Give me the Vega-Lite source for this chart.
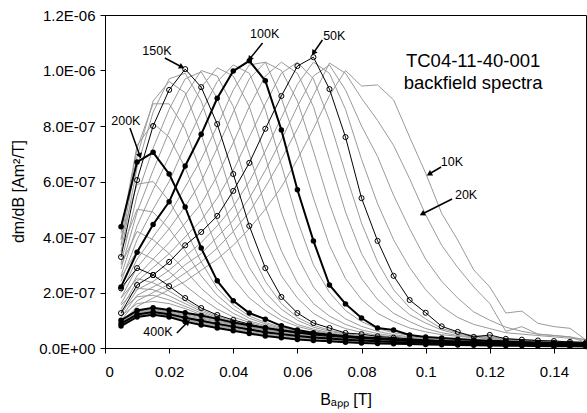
{"$schema":"https://vega.github.io/schema/vega-lite/v6.json","width":481,"height":333,"autosize":{"type":"none"},"padding":{"left":105,"top":15,"right":1,"bottom":65},"background":"white","config":{"view":{"stroke":"black","strokeWidth":1},"font":"Liberation Sans","axis":{"domainColor":"black","tickColor":"black","labelColor":"black","titleColor":"black","labelFont":"Liberation Sans","titleFont":"Liberation Sans","labelFontSize":15,"titleFontSize":16,"titleFontWeight":"normal","grid":false,"tickSize":5}},
"datasets":{"curves":[
{"T":10,"B":0.005,"v":0.9e-7},{"T":10,"B":0.01,"v":1.5e-7},{"T":10,"B":0.015,"v":1.8e-7},{"T":10,"B":0.02,"v":2.1e-7},{"T":10,"B":0.025,"v":2.4e-7},{"T":10,"B":0.03,"v":2.8e-7},{"T":10,"B":0.035,"v":3.2e-7},{"T":10,"B":0.04,"v":3.7e-7},{"T":10,"B":0.045,"v":4.3e-7},{"T":10,"B":0.05,"v":5.0e-7},{"T":10,"B":0.055,"v":5.8e-7},{"T":10,"B":0.06,"v":6.8e-7},{"T":10,"B":0.065,"v":7.9e-7},{"T":10,"B":0.07,"v":9.1e-7},{"T":10,"B":0.075,"v":10.0e-7},{"T":10,"B":0.08,"v":9.44e-7},{"T":10,"B":0.085,"v":9.48e-7},{"T":10,"B":0.09,"v":8.94e-7},{"T":10,"B":0.095,"v":7.6e-7},{"T":10,"B":0.1,"v":6.3e-7},{"T":10,"B":0.105,"v":4.85e-7},{"T":10,"B":0.11,"v":3.89e-7},{"T":10,"B":0.115,"v":2.81e-7},{"T":10,"B":0.12,"v":2.2e-7},{"T":10,"B":0.125,"v":1.26e-7},{"T":10,"B":0.13,"v":1.33e-7},{"T":10,"B":0.135,"v":0.89e-7},{"T":10,"B":0.14,"v":0.77e-7},{"T":10,"B":0.145,"v":0.71e-7},{"T":10,"B":0.15,"v":0.29e-7},
{"T":20,"B":0.005,"v":1.0e-7},{"T":20,"B":0.01,"v":1.7e-7},{"T":20,"B":0.015,"v":2.0e-7},{"T":20,"B":0.02,"v":2.3e-7},{"T":20,"B":0.025,"v":2.7e-7},{"T":20,"B":0.03,"v":3.1e-7},{"T":20,"B":0.035,"v":3.6e-7},{"T":20,"B":0.04,"v":4.2e-7},{"T":20,"B":0.045,"v":4.9e-7},{"T":20,"B":0.05,"v":5.8e-7},{"T":20,"B":0.055,"v":6.8e-7},{"T":20,"B":0.06,"v":7.9e-7},{"T":20,"B":0.065,"v":9.1e-7},{"T":20,"B":0.07,"v":10.27e-7},{"T":20,"B":0.075,"v":9.9e-7},{"T":20,"B":0.08,"v":9.0e-7},{"T":20,"B":0.085,"v":8.2e-7},{"T":20,"B":0.09,"v":7.3e-7},{"T":20,"B":0.095,"v":6.1e-7},{"T":20,"B":0.1,"v":4.8e-7},{"T":20,"B":0.105,"v":3.7e-7},{"T":20,"B":0.11,"v":2.9e-7},{"T":20,"B":0.115,"v":2.2e-7},{"T":20,"B":0.12,"v":1.6e-7},{"T":20,"B":0.125,"v":0.6e-7},{"T":20,"B":0.13,"v":0.77e-7},{"T":20,"B":0.135,"v":0.5e-7},{"T":20,"B":0.14,"v":0.45e-7},{"T":20,"B":0.145,"v":0.4e-7},{"T":20,"B":0.15,"v":0.2e-7},
{"T":30,"B":0.005,"v":1.1e-7},{"T":30,"B":0.01,"v":1.9e-7},{"T":30,"B":0.015,"v":2.2e-7},{"T":30,"B":0.02,"v":2.5e-7},{"T":30,"B":0.025,"v":3.0e-7},{"T":30,"B":0.03,"v":3.4e-7},{"T":30,"B":0.035,"v":4.0e-7},{"T":30,"B":0.04,"v":4.6e-7},{"T":30,"B":0.045,"v":5.4e-7},{"T":30,"B":0.05,"v":6.4e-7},{"T":30,"B":0.055,"v":7.5e-7},{"T":30,"B":0.06,"v":8.7e-7},{"T":30,"B":0.065,"v":9.8e-7},{"T":30,"B":0.07,"v":10.2e-7},{"T":30,"B":0.075,"v":9.3e-7},{"T":30,"B":0.08,"v":8.0e-7},{"T":30,"B":0.085,"v":6.9e-7},{"T":30,"B":0.09,"v":5.5e-7},{"T":30,"B":0.095,"v":4.3e-7},{"T":30,"B":0.1,"v":3.2e-7},{"T":30,"B":0.105,"v":2.4e-7},{"T":30,"B":0.11,"v":1.8e-7},{"T":30,"B":0.115,"v":1.3e-7},{"T":30,"B":0.12,"v":1.0e-7},{"T":30,"B":0.125,"v":0.75e-7},{"T":30,"B":0.13,"v":0.6e-7},{"T":30,"B":0.135,"v":0.5e-7},{"T":30,"B":0.14,"v":0.45e-7},{"T":30,"B":0.145,"v":0.4e-7},{"T":30,"B":0.15,"v":0.3e-7},
{"T":40,"B":0.005,"v":1.2e-7},{"T":40,"B":0.01,"v":2.1e-7},{"T":40,"B":0.015,"v":2.4e-7},{"T":40,"B":0.02,"v":2.8e-7},{"T":40,"B":0.025,"v":3.3e-7},{"T":40,"B":0.03,"v":3.8e-7},{"T":40,"B":0.035,"v":4.4e-7},{"T":40,"B":0.04,"v":5.1e-7},{"T":40,"B":0.045,"v":6.0e-7},{"T":40,"B":0.05,"v":7.1e-7},{"T":40,"B":0.055,"v":8.3e-7},{"T":40,"B":0.06,"v":9.5e-7},{"T":40,"B":0.065,"v":10.3e-7},{"T":40,"B":0.07,"v":9.9e-7},{"T":40,"B":0.075,"v":8.6e-7},{"T":40,"B":0.08,"v":6.8e-7},{"T":40,"B":0.085,"v":5.2e-7},{"T":40,"B":0.09,"v":3.9e-7},{"T":40,"B":0.095,"v":2.9e-7},{"T":40,"B":0.1,"v":2.1e-7},{"T":40,"B":0.105,"v":1.5e-7},{"T":40,"B":0.11,"v":1.1e-7},{"T":40,"B":0.115,"v":0.85e-7},{"T":40,"B":0.12,"v":0.7e-7},{"T":40,"B":0.125,"v":0.55e-7},{"T":40,"B":0.13,"v":0.5e-7},{"T":40,"B":0.135,"v":0.45e-7},{"T":40,"B":0.14,"v":0.4e-7},{"T":40,"B":0.145,"v":0.35e-7},{"T":40,"B":0.15,"v":0.3e-7},
{"T":50,"B":0.005,"v":1.26e-7},{"T":50,"B":0.01,"v":2.27e-7},{"T":50,"B":0.015,"v":2.63e-7},{"T":50,"B":0.02,"v":3.10e-7},{"T":50,"B":0.025,"v":3.70e-7},{"T":50,"B":0.03,"v":4.18e-7},{"T":50,"B":0.035,"v":4.76e-7},{"T":50,"B":0.04,"v":5.66e-7},{"T":50,"B":0.045,"v":6.67e-7},{"T":50,"B":0.05,"v":7.90e-7},{"T":50,"B":0.055,"v":9.08e-7},{"T":50,"B":0.06,"v":10.16e-7},{"T":50,"B":0.065,"v":10.48e-7},{"T":50,"B":0.07,"v":9.33e-7},{"T":50,"B":0.075,"v":7.60e-7},{"T":50,"B":0.08,"v":5.40e-7},{"T":50,"B":0.085,"v":3.86e-7},{"T":50,"B":0.09,"v":2.60e-7},{"T":50,"B":0.095,"v":1.73e-7},{"T":50,"B":0.1,"v":1.27e-7},{"T":50,"B":0.105,"v":0.78e-7},{"T":50,"B":0.11,"v":0.58e-7},{"T":50,"B":0.115,"v":0.40e-7},{"T":50,"B":0.12,"v":0.47e-7},{"T":50,"B":0.125,"v":0.33e-7},{"T":50,"B":0.13,"v":0.3e-7},{"T":50,"B":0.135,"v":0.27e-7},{"T":50,"B":0.14,"v":0.25e-7},{"T":50,"B":0.145,"v":0.22e-7},{"T":50,"B":0.15,"v":0.2e-7},
{"T":60,"B":0.005,"v":1.4e-7},{"T":60,"B":0.01,"v":2.4e-7},{"T":60,"B":0.015,"v":2.9e-7},{"T":60,"B":0.02,"v":3.4e-7},{"T":60,"B":0.025,"v":4.0e-7},{"T":60,"B":0.03,"v":4.6e-7},{"T":60,"B":0.035,"v":5.4e-7},{"T":60,"B":0.04,"v":6.4e-7},{"T":60,"B":0.045,"v":7.6e-7},{"T":60,"B":0.05,"v":8.8e-7},{"T":60,"B":0.055,"v":9.9e-7},{"T":60,"B":0.06,"v":10.3e-7},{"T":60,"B":0.065,"v":9.7e-7},{"T":60,"B":0.07,"v":8.2e-7},{"T":60,"B":0.075,"v":6.3e-7},{"T":60,"B":0.08,"v":4.5e-7},{"T":60,"B":0.085,"v":3.1e-7},{"T":60,"B":0.09,"v":2.1e-7},{"T":60,"B":0.095,"v":1.45e-7},{"T":60,"B":0.1,"v":1.05e-7},{"T":60,"B":0.105,"v":0.7e-7},{"T":60,"B":0.11,"v":0.55e-7},{"T":60,"B":0.115,"v":0.45e-7},{"T":60,"B":0.12,"v":0.4e-7},{"T":60,"B":0.125,"v":0.35e-7},{"T":60,"B":0.13,"v":0.3e-7},{"T":60,"B":0.135,"v":0.27e-7},{"T":60,"B":0.14,"v":0.25e-7},{"T":60,"B":0.145,"v":0.22e-7},{"T":60,"B":0.15,"v":0.2e-7},
{"T":70,"B":0.005,"v":1.6e-7},{"T":70,"B":0.01,"v":2.6e-7},{"T":70,"B":0.015,"v":3.2e-7},{"T":70,"B":0.02,"v":3.8e-7},{"T":70,"B":0.025,"v":4.5e-7},{"T":70,"B":0.03,"v":5.2e-7},{"T":70,"B":0.035,"v":6.2e-7},{"T":70,"B":0.04,"v":7.4e-7},{"T":70,"B":0.045,"v":8.7e-7},{"T":70,"B":0.05,"v":9.8e-7},{"T":70,"B":0.055,"v":10.3e-7},{"T":70,"B":0.06,"v":9.9e-7},{"T":70,"B":0.065,"v":8.7e-7},{"T":70,"B":0.07,"v":6.8e-7},{"T":70,"B":0.075,"v":4.9e-7},{"T":70,"B":0.08,"v":3.4e-7},{"T":70,"B":0.085,"v":2.4e-7},{"T":70,"B":0.09,"v":1.7e-7},{"T":70,"B":0.095,"v":1.2e-7},{"T":70,"B":0.1,"v":0.9e-7},{"T":70,"B":0.105,"v":0.65e-7},{"T":70,"B":0.11,"v":0.5e-7},{"T":70,"B":0.115,"v":0.42e-7},{"T":70,"B":0.12,"v":0.38e-7},{"T":70,"B":0.125,"v":0.33e-7},{"T":70,"B":0.13,"v":0.3e-7},{"T":70,"B":0.135,"v":0.27e-7},{"T":70,"B":0.14,"v":0.24e-7},{"T":70,"B":0.145,"v":0.22e-7},{"T":70,"B":0.15,"v":0.2e-7},
{"T":80,"B":0.005,"v":1.8e-7},{"T":80,"B":0.01,"v":2.9e-7},{"T":80,"B":0.015,"v":3.6e-7},{"T":80,"B":0.02,"v":4.3e-7},{"T":80,"B":0.025,"v":5.1e-7},{"T":80,"B":0.03,"v":6.0e-7},{"T":80,"B":0.035,"v":7.2e-7},{"T":80,"B":0.04,"v":8.5e-7},{"T":80,"B":0.045,"v":9.7e-7},{"T":80,"B":0.05,"v":10.3e-7},{"T":80,"B":0.055,"v":10.0e-7},{"T":80,"B":0.06,"v":8.9e-7},{"T":80,"B":0.065,"v":7.1e-7},{"T":80,"B":0.07,"v":5.2e-7},{"T":80,"B":0.075,"v":3.6e-7},{"T":80,"B":0.08,"v":2.5e-7},{"T":80,"B":0.085,"v":1.75e-7},{"T":80,"B":0.09,"v":1.25e-7},{"T":80,"B":0.095,"v":0.95e-7},{"T":80,"B":0.1,"v":0.7e-7},{"T":80,"B":0.105,"v":0.55e-7},{"T":80,"B":0.11,"v":0.45e-7},{"T":80,"B":0.115,"v":0.4e-7},{"T":80,"B":0.12,"v":0.35e-7},{"T":80,"B":0.125,"v":0.3e-7},{"T":80,"B":0.13,"v":0.28e-7},{"T":80,"B":0.135,"v":0.25e-7},{"T":80,"B":0.14,"v":0.23e-7},{"T":80,"B":0.145,"v":0.2e-7},{"T":80,"B":0.15,"v":0.18e-7},
{"T":90,"B":0.005,"v":2.0e-7},{"T":90,"B":0.01,"v":3.2e-7},{"T":90,"B":0.015,"v":4.0e-7},{"T":90,"B":0.02,"v":4.8e-7},{"T":90,"B":0.025,"v":5.8e-7},{"T":90,"B":0.03,"v":6.8e-7},{"T":90,"B":0.035,"v":8.0e-7},{"T":90,"B":0.04,"v":9.3e-7},{"T":90,"B":0.045,"v":10.2e-7},{"T":90,"B":0.05,"v":10.3e-7},{"T":90,"B":0.055,"v":9.0e-7},{"T":90,"B":0.06,"v":7.3e-7},{"T":90,"B":0.065,"v":5.4e-7},{"T":90,"B":0.07,"v":3.7e-7},{"T":90,"B":0.075,"v":2.5e-7},{"T":90,"B":0.08,"v":1.75e-7},{"T":90,"B":0.085,"v":1.25e-7},{"T":90,"B":0.09,"v":0.95e-7},{"T":90,"B":0.095,"v":0.72e-7},{"T":90,"B":0.1,"v":0.58e-7},{"T":90,"B":0.105,"v":0.48e-7},{"T":90,"B":0.11,"v":0.42e-7},{"T":90,"B":0.115,"v":0.37e-7},{"T":90,"B":0.12,"v":0.33e-7},{"T":90,"B":0.125,"v":0.3e-7},{"T":90,"B":0.13,"v":0.27e-7},{"T":90,"B":0.135,"v":0.24e-7},{"T":90,"B":0.14,"v":0.22e-7},{"T":90,"B":0.145,"v":0.2e-7},{"T":90,"B":0.15,"v":0.17e-7},
{"T":100,"B":0.005,"v":2.20e-7},{"T":100,"B":0.01,"v":3.45e-7},{"T":100,"B":0.015,"v":4.45e-7},{"T":100,"B":0.02,"v":5.27e-7},{"T":100,"B":0.025,"v":6.56e-7},{"T":100,"B":0.03,"v":7.70e-7},{"T":100,"B":0.035,"v":9.00e-7},{"T":100,"B":0.04,"v":9.98e-7},{"T":100,"B":0.045,"v":10.35e-7},{"T":100,"B":0.05,"v":9.63e-7},{"T":100,"B":0.055,"v":7.86e-7},{"T":100,"B":0.06,"v":5.70e-7},{"T":100,"B":0.065,"v":3.86e-7},{"T":100,"B":0.07,"v":2.27e-7},{"T":100,"B":0.075,"v":1.59e-7},{"T":100,"B":0.08,"v":1.08e-7},{"T":100,"B":0.085,"v":0.72e-7},{"T":100,"B":0.09,"v":0.65e-7},{"T":100,"B":0.095,"v":0.47e-7},{"T":100,"B":0.1,"v":0.40e-7},{"T":100,"B":0.105,"v":0.36e-7},{"T":100,"B":0.11,"v":0.32e-7},{"T":100,"B":0.115,"v":0.29e-7},{"T":100,"B":0.12,"v":0.26e-7},{"T":100,"B":0.125,"v":0.24e-7},{"T":100,"B":0.13,"v":0.22e-7},{"T":100,"B":0.135,"v":0.2e-7},{"T":100,"B":0.14,"v":0.18e-7},{"T":100,"B":0.145,"v":0.16e-7},{"T":100,"B":0.15,"v":0.15e-7},
{"T":110,"B":0.005,"v":2.4e-7},{"T":110,"B":0.01,"v":3.9e-7},{"T":110,"B":0.015,"v":5.0e-7},{"T":110,"B":0.02,"v":6.0e-7},{"T":110,"B":0.025,"v":7.3e-7},{"T":110,"B":0.03,"v":8.5e-7},{"T":110,"B":0.035,"v":9.6e-7},{"T":110,"B":0.04,"v":10.2e-7},{"T":110,"B":0.045,"v":9.9e-7},{"T":110,"B":0.05,"v":8.6e-7},{"T":110,"B":0.055,"v":6.6e-7},{"T":110,"B":0.06,"v":4.6e-7},{"T":110,"B":0.065,"v":3.0e-7},{"T":110,"B":0.07,"v":2.0e-7},{"T":110,"B":0.075,"v":1.35e-7},{"T":110,"B":0.08,"v":0.95e-7},{"T":110,"B":0.085,"v":0.7e-7},{"T":110,"B":0.09,"v":0.55e-7},{"T":110,"B":0.095,"v":0.45e-7},{"T":110,"B":0.1,"v":0.38e-7},{"T":110,"B":0.105,"v":0.34e-7},{"T":110,"B":0.11,"v":0.3e-7},{"T":110,"B":0.115,"v":0.27e-7},{"T":110,"B":0.12,"v":0.25e-7},{"T":110,"B":0.125,"v":0.23e-7},{"T":110,"B":0.13,"v":0.21e-7},{"T":110,"B":0.135,"v":0.19e-7},{"T":110,"B":0.14,"v":0.17e-7},{"T":110,"B":0.145,"v":0.15e-7},{"T":110,"B":0.15,"v":0.14e-7},
{"T":120,"B":0.005,"v":2.6e-7},{"T":120,"B":0.01,"v":4.4e-7},{"T":120,"B":0.015,"v":5.7e-7},{"T":120,"B":0.02,"v":6.9e-7},{"T":120,"B":0.025,"v":8.2e-7},{"T":120,"B":0.03,"v":9.4e-7},{"T":120,"B":0.035,"v":10.1e-7},{"T":120,"B":0.04,"v":9.8e-7},{"T":120,"B":0.045,"v":8.7e-7},{"T":120,"B":0.05,"v":6.9e-7},{"T":120,"B":0.055,"v":4.9e-7},{"T":120,"B":0.06,"v":3.3e-7},{"T":120,"B":0.065,"v":2.2e-7},{"T":120,"B":0.07,"v":1.5e-7},{"T":120,"B":0.075,"v":1.05e-7},{"T":120,"B":0.08,"v":0.78e-7},{"T":120,"B":0.085,"v":0.6e-7},{"T":120,"B":0.09,"v":0.48e-7},{"T":120,"B":0.095,"v":0.4e-7},{"T":120,"B":0.1,"v":0.35e-7},{"T":120,"B":0.105,"v":0.31e-7},{"T":120,"B":0.11,"v":0.28e-7},{"T":120,"B":0.115,"v":0.25e-7},{"T":120,"B":0.12,"v":0.23e-7},{"T":120,"B":0.125,"v":0.21e-7},{"T":120,"B":0.13,"v":0.19e-7},{"T":120,"B":0.135,"v":0.17e-7},{"T":120,"B":0.14,"v":0.16e-7},{"T":120,"B":0.145,"v":0.14e-7},{"T":120,"B":0.15,"v":0.13e-7},
{"T":130,"B":0.005,"v":2.85e-7},{"T":130,"B":0.01,"v":4.9e-7},{"T":130,"B":0.015,"v":6.4e-7},{"T":130,"B":0.02,"v":7.8e-7},{"T":130,"B":0.025,"v":9.1e-7},{"T":130,"B":0.03,"v":10.0e-7},{"T":130,"B":0.035,"v":9.8e-7},{"T":130,"B":0.04,"v":8.7e-7},{"T":130,"B":0.045,"v":7.0e-7},{"T":130,"B":0.05,"v":5.1e-7},{"T":130,"B":0.055,"v":3.5e-7},{"T":130,"B":0.06,"v":2.35e-7},{"T":130,"B":0.065,"v":1.6e-7},{"T":130,"B":0.07,"v":1.15e-7},{"T":130,"B":0.075,"v":0.85e-7},{"T":130,"B":0.08,"v":0.65e-7},{"T":130,"B":0.085,"v":0.52e-7},{"T":130,"B":0.09,"v":0.43e-7},{"T":130,"B":0.095,"v":0.37e-7},{"T":130,"B":0.1,"v":0.32e-7},{"T":130,"B":0.105,"v":0.29e-7},{"T":130,"B":0.11,"v":0.26e-7},{"T":130,"B":0.115,"v":0.24e-7},{"T":130,"B":0.12,"v":0.22e-7},{"T":130,"B":0.125,"v":0.2e-7},{"T":130,"B":0.13,"v":0.18e-7},{"T":130,"B":0.135,"v":0.16e-7},{"T":130,"B":0.14,"v":0.15e-7},{"T":130,"B":0.145,"v":0.13e-7},{"T":130,"B":0.15,"v":0.12e-7},
{"T":140,"B":0.005,"v":3.05e-7},{"T":140,"B":0.01,"v":5.5e-7},{"T":140,"B":0.015,"v":7.2e-7},{"T":140,"B":0.02,"v":8.6e-7},{"T":140,"B":0.025,"v":9.7e-7},{"T":140,"B":0.03,"v":9.95e-7},{"T":140,"B":0.035,"v":9.0e-7},{"T":140,"B":0.04,"v":7.5e-7},{"T":140,"B":0.045,"v":5.6e-7},{"T":140,"B":0.05,"v":3.9e-7},{"T":140,"B":0.055,"v":2.6e-7},{"T":140,"B":0.06,"v":1.8e-7},{"T":140,"B":0.065,"v":1.25e-7},{"T":140,"B":0.07,"v":0.92e-7},{"T":140,"B":0.075,"v":0.7e-7},{"T":140,"B":0.08,"v":0.56e-7},{"T":140,"B":0.085,"v":0.46e-7},{"T":140,"B":0.09,"v":0.39e-7},{"T":140,"B":0.095,"v":0.34e-7},{"T":140,"B":0.1,"v":0.3e-7},{"T":140,"B":0.105,"v":0.27e-7},{"T":140,"B":0.11,"v":0.25e-7},{"T":140,"B":0.115,"v":0.23e-7},{"T":140,"B":0.12,"v":0.21e-7},{"T":140,"B":0.125,"v":0.19e-7},{"T":140,"B":0.13,"v":0.17e-7},{"T":140,"B":0.135,"v":0.15e-7},{"T":140,"B":0.14,"v":0.14e-7},{"T":140,"B":0.145,"v":0.12e-7},{"T":140,"B":0.15,"v":0.11e-7},
{"T":150,"B":0.005,"v":3.28e-7},{"T":150,"B":0.01,"v":6.05e-7},{"T":150,"B":0.015,"v":8.00e-7},{"T":150,"B":0.02,"v":9.30e-7},{"T":150,"B":0.025,"v":10.05e-7},{"T":150,"B":0.03,"v":9.40e-7},{"T":150,"B":0.035,"v":8.07e-7},{"T":150,"B":0.04,"v":6.27e-7},{"T":150,"B":0.045,"v":4.40e-7},{"T":150,"B":0.05,"v":2.88e-7},{"T":150,"B":0.055,"v":1.84e-7},{"T":150,"B":0.06,"v":1.26e-7},{"T":150,"B":0.065,"v":0.90e-7},{"T":150,"B":0.07,"v":0.72e-7},{"T":150,"B":0.075,"v":0.54e-7},{"T":150,"B":0.08,"v":0.50e-7},{"T":150,"B":0.085,"v":0.42e-7},{"T":150,"B":0.09,"v":0.37e-7},{"T":150,"B":0.095,"v":0.33e-7},{"T":150,"B":0.1,"v":0.29e-7},{"T":150,"B":0.105,"v":0.26e-7},{"T":150,"B":0.11,"v":0.24e-7},{"T":150,"B":0.115,"v":0.22e-7},{"T":150,"B":0.12,"v":0.2e-7},{"T":150,"B":0.125,"v":0.18e-7},{"T":150,"B":0.13,"v":0.16e-7},{"T":150,"B":0.135,"v":0.15e-7},{"T":150,"B":0.14,"v":0.13e-7},{"T":150,"B":0.145,"v":0.12e-7},{"T":150,"B":0.15,"v":0.11e-7},
{"T":160,"B":0.005,"v":3.45e-7},{"T":160,"B":0.01,"v":6.5e-7},{"T":160,"B":0.015,"v":8.5e-7},{"T":160,"B":0.02,"v":9.7e-7},{"T":160,"B":0.025,"v":9.9e-7},{"T":160,"B":0.03,"v":8.9e-7},{"T":160,"B":0.035,"v":7.2e-7},{"T":160,"B":0.04,"v":5.3e-7},{"T":160,"B":0.045,"v":3.6e-7},{"T":160,"B":0.05,"v":2.4e-7},{"T":160,"B":0.055,"v":1.6e-7},{"T":160,"B":0.06,"v":1.1e-7},{"T":160,"B":0.065,"v":0.82e-7},{"T":160,"B":0.07,"v":0.64e-7},{"T":160,"B":0.075,"v":0.52e-7},{"T":160,"B":0.08,"v":0.45e-7},{"T":160,"B":0.085,"v":0.39e-7},{"T":160,"B":0.09,"v":0.34e-7},{"T":160,"B":0.095,"v":0.3e-7},{"T":160,"B":0.1,"v":0.27e-7},{"T":160,"B":0.105,"v":0.24e-7},{"T":160,"B":0.11,"v":0.22e-7},{"T":160,"B":0.115,"v":0.2e-7},{"T":160,"B":0.12,"v":0.18e-7},{"T":160,"B":0.125,"v":0.16e-7},{"T":160,"B":0.13,"v":0.15e-7},{"T":160,"B":0.135,"v":0.14e-7},{"T":160,"B":0.14,"v":0.12e-7},{"T":160,"B":0.145,"v":0.11e-7},{"T":160,"B":0.15,"v":0.1e-7},
{"T":170,"B":0.005,"v":3.7e-7},{"T":170,"B":0.01,"v":6.9e-7},{"T":170,"B":0.015,"v":8.9e-7},{"T":170,"B":0.02,"v":9.6e-7},{"T":170,"B":0.025,"v":9.2e-7},{"T":170,"B":0.03,"v":7.7e-7},{"T":170,"B":0.035,"v":5.9e-7},{"T":170,"B":0.04,"v":4.2e-7},{"T":170,"B":0.045,"v":2.9e-7},{"T":170,"B":0.05,"v":2.0e-7},{"T":170,"B":0.055,"v":1.4e-7},{"T":170,"B":0.06,"v":1.0e-7},{"T":170,"B":0.065,"v":0.75e-7},{"T":170,"B":0.07,"v":0.6e-7},{"T":170,"B":0.075,"v":0.5e-7},{"T":170,"B":0.08,"v":0.42e-7},{"T":170,"B":0.085,"v":0.36e-7},{"T":170,"B":0.09,"v":0.32e-7},{"T":170,"B":0.095,"v":0.28e-7},{"T":170,"B":0.1,"v":0.25e-7},{"T":170,"B":0.105,"v":0.23e-7},{"T":170,"B":0.11,"v":0.21e-7},{"T":170,"B":0.115,"v":0.19e-7},{"T":170,"B":0.12,"v":0.17e-7},{"T":170,"B":0.125,"v":0.15e-7},{"T":170,"B":0.13,"v":0.14e-7},{"T":170,"B":0.135,"v":0.13e-7},{"T":170,"B":0.14,"v":0.11e-7},{"T":170,"B":0.145,"v":0.1e-7},{"T":170,"B":0.15,"v":0.09e-7},
{"T":180,"B":0.005,"v":3.9e-7},{"T":180,"B":0.01,"v":7.2e-7},{"T":180,"B":0.015,"v":8.8e-7},{"T":180,"B":0.02,"v":8.8e-7},{"T":180,"B":0.025,"v":7.9e-7},{"T":180,"B":0.03,"v":6.3e-7},{"T":180,"B":0.035,"v":4.6e-7},{"T":180,"B":0.04,"v":3.3e-7},{"T":180,"B":0.045,"v":2.3e-7},{"T":180,"B":0.05,"v":1.6e-7},{"T":180,"B":0.055,"v":1.15e-7},{"T":180,"B":0.06,"v":0.85e-7},{"T":180,"B":0.065,"v":0.68e-7},{"T":180,"B":0.07,"v":0.55e-7},{"T":180,"B":0.075,"v":0.46e-7},{"T":180,"B":0.08,"v":0.4e-7},{"T":180,"B":0.085,"v":0.35e-7},{"T":180,"B":0.09,"v":0.31e-7},{"T":180,"B":0.095,"v":0.27e-7},{"T":180,"B":0.1,"v":0.24e-7},{"T":180,"B":0.105,"v":0.22e-7},{"T":180,"B":0.11,"v":0.2e-7},{"T":180,"B":0.115,"v":0.18e-7},{"T":180,"B":0.12,"v":0.16e-7},{"T":180,"B":0.125,"v":0.15e-7},{"T":180,"B":0.13,"v":0.13e-7},{"T":180,"B":0.135,"v":0.12e-7},{"T":180,"B":0.14,"v":0.11e-7},{"T":180,"B":0.145,"v":0.1e-7},{"T":180,"B":0.15,"v":0.09e-7},
{"T":190,"B":0.005,"v":4.15e-7},{"T":190,"B":0.01,"v":7.3e-7},{"T":190,"B":0.015,"v":8.1e-7},{"T":190,"B":0.02,"v":7.6e-7},{"T":190,"B":0.025,"v":6.5e-7},{"T":190,"B":0.03,"v":5.0e-7},{"T":190,"B":0.035,"v":3.6e-7},{"T":190,"B":0.04,"v":2.5e-7},{"T":190,"B":0.045,"v":1.8e-7},{"T":190,"B":0.05,"v":1.35e-7},{"T":190,"B":0.055,"v":1.0e-7},{"T":190,"B":0.06,"v":0.78e-7},{"T":190,"B":0.065,"v":0.63e-7},{"T":190,"B":0.07,"v":0.52e-7},{"T":190,"B":0.075,"v":0.45e-7},{"T":190,"B":0.08,"v":0.39e-7},{"T":190,"B":0.085,"v":0.34e-7},{"T":190,"B":0.09,"v":0.3e-7},{"T":190,"B":0.095,"v":0.27e-7},{"T":190,"B":0.1,"v":0.24e-7},{"T":190,"B":0.105,"v":0.21e-7},{"T":190,"B":0.11,"v":0.19e-7},{"T":190,"B":0.115,"v":0.17e-7},{"T":190,"B":0.12,"v":0.16e-7},{"T":190,"B":0.125,"v":0.14e-7},{"T":190,"B":0.13,"v":0.13e-7},{"T":190,"B":0.135,"v":0.12e-7},{"T":190,"B":0.14,"v":0.1e-7},{"T":190,"B":0.145,"v":0.09e-7},{"T":190,"B":0.15,"v":0.08e-7},
{"T":200,"B":0.005,"v":4.37e-7},{"T":200,"B":0.01,"v":6.70e-7},{"T":200,"B":0.015,"v":7.05e-7},{"T":200,"B":0.02,"v":6.27e-7},{"T":200,"B":0.025,"v":5.08e-7},{"T":200,"B":0.03,"v":3.60e-7},{"T":200,"B":0.035,"v":2.42e-7},{"T":200,"B":0.04,"v":1.70e-7},{"T":200,"B":0.045,"v":1.26e-7},{"T":200,"B":0.05,"v":1.04e-7},{"T":200,"B":0.055,"v":0.80e-7},{"T":200,"B":0.06,"v":0.65e-7},{"T":200,"B":0.065,"v":0.55e-7},{"T":200,"B":0.07,"v":0.48e-7},{"T":200,"B":0.075,"v":0.42e-7},{"T":200,"B":0.08,"v":0.38e-7},{"T":200,"B":0.085,"v":0.34e-7},{"T":200,"B":0.09,"v":0.3e-7},{"T":200,"B":0.095,"v":0.27e-7},{"T":200,"B":0.1,"v":0.25e-7},{"T":200,"B":0.105,"v":0.22e-7},{"T":200,"B":0.11,"v":0.2e-7},{"T":200,"B":0.115,"v":0.18e-7},{"T":200,"B":0.12,"v":0.16e-7},{"T":200,"B":0.125,"v":0.15e-7},{"T":200,"B":0.13,"v":0.13e-7},{"T":200,"B":0.135,"v":0.12e-7},{"T":200,"B":0.14,"v":0.11e-7},{"T":200,"B":0.145,"v":0.1e-7},{"T":200,"B":0.15,"v":0.09e-7},
{"T":210,"B":0.005,"v":3.95e-7},{"T":210,"B":0.01,"v":5.9e-7},{"T":210,"B":0.015,"v":6.0e-7},{"T":210,"B":0.02,"v":5.3e-7},{"T":210,"B":0.025,"v":4.3e-7},{"T":210,"B":0.03,"v":3.1e-7},{"T":210,"B":0.035,"v":2.15e-7},{"T":210,"B":0.04,"v":1.55e-7},{"T":210,"B":0.045,"v":1.15e-7},{"T":210,"B":0.05,"v":0.92e-7},{"T":210,"B":0.055,"v":0.74e-7},{"T":210,"B":0.06,"v":0.61e-7},{"T":210,"B":0.065,"v":0.52e-7},{"T":210,"B":0.07,"v":0.46e-7},{"T":210,"B":0.075,"v":0.4e-7},{"T":210,"B":0.08,"v":0.36e-7},{"T":210,"B":0.085,"v":0.32e-7},{"T":210,"B":0.09,"v":0.29e-7},{"T":210,"B":0.095,"v":0.26e-7},{"T":210,"B":0.1,"v":0.24e-7},{"T":210,"B":0.105,"v":0.21e-7},{"T":210,"B":0.11,"v":0.19e-7},{"T":210,"B":0.115,"v":0.17e-7},{"T":210,"B":0.12,"v":0.16e-7},{"T":210,"B":0.125,"v":0.14e-7},{"T":210,"B":0.13,"v":0.13e-7},{"T":210,"B":0.135,"v":0.12e-7},{"T":210,"B":0.14,"v":0.11e-7},{"T":210,"B":0.145,"v":0.1e-7},{"T":210,"B":0.15,"v":0.09e-7},
{"T":220,"B":0.005,"v":3.5e-7},{"T":220,"B":0.01,"v":5.0e-7},{"T":220,"B":0.015,"v":4.9e-7},{"T":220,"B":0.02,"v":4.3e-7},{"T":220,"B":0.025,"v":3.5e-7},{"T":220,"B":0.03,"v":2.6e-7},{"T":220,"B":0.035,"v":1.9e-7},{"T":220,"B":0.04,"v":1.4e-7},{"T":220,"B":0.045,"v":1.07e-7},{"T":220,"B":0.05,"v":0.87e-7},{"T":220,"B":0.055,"v":0.7e-7},{"T":220,"B":0.06,"v":0.58e-7},{"T":220,"B":0.065,"v":0.5e-7},{"T":220,"B":0.07,"v":0.44e-7},{"T":220,"B":0.075,"v":0.39e-7},{"T":220,"B":0.08,"v":0.35e-7},{"T":220,"B":0.085,"v":0.31e-7},{"T":220,"B":0.09,"v":0.28e-7},{"T":220,"B":0.095,"v":0.25e-7},{"T":220,"B":0.1,"v":0.23e-7},{"T":220,"B":0.105,"v":0.2e-7},{"T":220,"B":0.11,"v":0.18e-7},{"T":220,"B":0.115,"v":0.17e-7},{"T":220,"B":0.12,"v":0.15e-7},{"T":220,"B":0.125,"v":0.14e-7},{"T":220,"B":0.13,"v":0.12e-7},{"T":220,"B":0.135,"v":0.11e-7},{"T":220,"B":0.14,"v":0.1e-7},{"T":220,"B":0.145,"v":0.09e-7},{"T":220,"B":0.15,"v":0.08e-7},
{"T":230,"B":0.005,"v":3.0e-7},{"T":230,"B":0.01,"v":4.2e-7},{"T":230,"B":0.015,"v":3.9e-7},{"T":230,"B":0.02,"v":3.4e-7},{"T":230,"B":0.025,"v":2.8e-7},{"T":230,"B":0.03,"v":2.15e-7},{"T":230,"B":0.035,"v":1.65e-7},{"T":230,"B":0.04,"v":1.25e-7},{"T":230,"B":0.045,"v":0.98e-7},{"T":230,"B":0.05,"v":0.81e-7},{"T":230,"B":0.055,"v":0.67e-7},{"T":230,"B":0.06,"v":0.56e-7},{"T":230,"B":0.065,"v":0.48e-7},{"T":230,"B":0.07,"v":0.43e-7},{"T":230,"B":0.075,"v":0.38e-7},{"T":230,"B":0.08,"v":0.34e-7},{"T":230,"B":0.085,"v":0.3e-7},{"T":230,"B":0.09,"v":0.27e-7},{"T":230,"B":0.095,"v":0.24e-7},{"T":230,"B":0.1,"v":0.22e-7},{"T":230,"B":0.105,"v":0.2e-7},{"T":230,"B":0.11,"v":0.18e-7},{"T":230,"B":0.115,"v":0.16e-7},{"T":230,"B":0.12,"v":0.15e-7},{"T":230,"B":0.125,"v":0.13e-7},{"T":230,"B":0.13,"v":0.12e-7},{"T":230,"B":0.135,"v":0.11e-7},{"T":230,"B":0.14,"v":0.1e-7},{"T":230,"B":0.145,"v":0.09e-7},{"T":230,"B":0.15,"v":0.08e-7},
{"T":240,"B":0.005,"v":2.55e-7},{"T":240,"B":0.01,"v":3.5e-7},{"T":240,"B":0.015,"v":3.2e-7},{"T":240,"B":0.02,"v":2.75e-7},{"T":240,"B":0.025,"v":2.25e-7},{"T":240,"B":0.03,"v":1.8e-7},{"T":240,"B":0.035,"v":1.4e-7},{"T":240,"B":0.04,"v":1.12e-7},{"T":240,"B":0.045,"v":0.92e-7},{"T":240,"B":0.05,"v":0.77e-7},{"T":240,"B":0.055,"v":0.64e-7},{"T":240,"B":0.06,"v":0.55e-7},{"T":240,"B":0.065,"v":0.47e-7},{"T":240,"B":0.07,"v":0.42e-7},{"T":240,"B":0.075,"v":0.37e-7},{"T":240,"B":0.08,"v":0.33e-7},{"T":240,"B":0.085,"v":0.3e-7},{"T":240,"B":0.09,"v":0.27e-7},{"T":240,"B":0.095,"v":0.24e-7},{"T":240,"B":0.1,"v":0.22e-7},{"T":240,"B":0.105,"v":0.2e-7},{"T":240,"B":0.11,"v":0.18e-7},{"T":240,"B":0.115,"v":0.16e-7},{"T":240,"B":0.12,"v":0.15e-7},{"T":240,"B":0.125,"v":0.13e-7},{"T":240,"B":0.13,"v":0.12e-7},{"T":240,"B":0.135,"v":0.11e-7},{"T":240,"B":0.14,"v":0.1e-7},{"T":240,"B":0.145,"v":0.09e-7},{"T":240,"B":0.15,"v":0.08e-7},
{"T":250,"B":0.005,"v":2.15e-7},{"T":250,"B":0.01,"v":2.88e-7},{"T":250,"B":0.015,"v":2.63e-7},{"T":250,"B":0.02,"v":2.23e-7},{"T":250,"B":0.025,"v":1.80e-7},{"T":250,"B":0.03,"v":1.44e-7},{"T":250,"B":0.035,"v":1.19e-7},{"T":250,"B":0.04,"v":1.01e-7},{"T":250,"B":0.045,"v":0.86e-7},{"T":250,"B":0.05,"v":0.73e-7},{"T":250,"B":0.055,"v":0.62e-7},{"T":250,"B":0.06,"v":0.54e-7},{"T":250,"B":0.065,"v":0.47e-7},{"T":250,"B":0.07,"v":0.42e-7},{"T":250,"B":0.075,"v":0.38e-7},{"T":250,"B":0.08,"v":0.34e-7},{"T":250,"B":0.085,"v":0.31e-7},{"T":250,"B":0.09,"v":0.28e-7},{"T":250,"B":0.095,"v":0.25e-7},{"T":250,"B":0.1,"v":0.23e-7},{"T":250,"B":0.105,"v":0.21e-7},{"T":250,"B":0.11,"v":0.19e-7},{"T":250,"B":0.115,"v":0.17e-7},{"T":250,"B":0.12,"v":0.16e-7},{"T":250,"B":0.125,"v":0.14e-7},{"T":250,"B":0.13,"v":0.13e-7},{"T":250,"B":0.135,"v":0.12e-7},{"T":250,"B":0.14,"v":0.11e-7},{"T":250,"B":0.145,"v":0.1e-7},{"T":250,"B":0.15,"v":0.09e-7},
{"T":260,"B":0.005,"v":1.8e-7},{"T":260,"B":0.01,"v":2.5e-7},{"T":260,"B":0.015,"v":2.35e-7},{"T":260,"B":0.02,"v":2.05e-7},{"T":260,"B":0.025,"v":1.7e-7},{"T":260,"B":0.03,"v":1.38e-7},{"T":260,"B":0.035,"v":1.14e-7},{"T":260,"B":0.04,"v":0.97e-7},{"T":260,"B":0.045,"v":0.83e-7},{"T":260,"B":0.05,"v":0.71e-7},{"T":260,"B":0.055,"v":0.6e-7},{"T":260,"B":0.06,"v":0.52e-7},{"T":260,"B":0.065,"v":0.46e-7},{"T":260,"B":0.07,"v":0.41e-7},{"T":260,"B":0.075,"v":0.36e-7},{"T":260,"B":0.08,"v":0.32e-7},{"T":260,"B":0.085,"v":0.29e-7},{"T":260,"B":0.09,"v":0.26e-7},{"T":260,"B":0.095,"v":0.24e-7},{"T":260,"B":0.1,"v":0.22e-7},{"T":260,"B":0.105,"v":0.19e-7},{"T":260,"B":0.11,"v":0.17e-7},{"T":260,"B":0.115,"v":0.16e-7},{"T":260,"B":0.12,"v":0.14e-7},{"T":260,"B":0.125,"v":0.13e-7},{"T":260,"B":0.13,"v":0.12e-7},{"T":260,"B":0.135,"v":0.11e-7},{"T":260,"B":0.14,"v":0.1e-7},{"T":260,"B":0.145,"v":0.09e-7},{"T":260,"B":0.15,"v":0.08e-7},
{"T":270,"B":0.005,"v":1.55e-7},{"T":270,"B":0.01,"v":2.15e-7},{"T":270,"B":0.015,"v":2.1e-7},{"T":270,"B":0.02,"v":1.88e-7},{"T":270,"B":0.025,"v":1.6e-7},{"T":270,"B":0.03,"v":1.32e-7},{"T":270,"B":0.035,"v":1.1e-7},{"T":270,"B":0.04,"v":0.93e-7},{"T":270,"B":0.045,"v":0.8e-7},{"T":270,"B":0.05,"v":0.69e-7},{"T":270,"B":0.055,"v":0.59e-7},{"T":270,"B":0.06,"v":0.51e-7},{"T":270,"B":0.065,"v":0.45e-7},{"T":270,"B":0.07,"v":0.4e-7},{"T":270,"B":0.075,"v":0.35e-7},{"T":270,"B":0.08,"v":0.31e-7},{"T":270,"B":0.085,"v":0.28e-7},{"T":270,"B":0.09,"v":0.25e-7},{"T":270,"B":0.095,"v":0.23e-7},{"T":270,"B":0.1,"v":0.21e-7},{"T":270,"B":0.105,"v":0.19e-7},{"T":270,"B":0.11,"v":0.17e-7},{"T":270,"B":0.115,"v":0.15e-7},{"T":270,"B":0.12,"v":0.14e-7},{"T":270,"B":0.125,"v":0.12e-7},{"T":270,"B":0.13,"v":0.11e-7},{"T":270,"B":0.135,"v":0.1e-7},{"T":270,"B":0.14,"v":0.09e-7},{"T":270,"B":0.145,"v":0.08e-7},{"T":270,"B":0.15,"v":0.07e-7},
{"T":280,"B":0.005,"v":1.35e-7},{"T":280,"B":0.01,"v":1.85e-7},{"T":280,"B":0.015,"v":1.9e-7},{"T":280,"B":0.02,"v":1.73e-7},{"T":280,"B":0.025,"v":1.5e-7},{"T":280,"B":0.03,"v":1.26e-7},{"T":280,"B":0.035,"v":1.06e-7},{"T":280,"B":0.04,"v":0.9e-7},{"T":280,"B":0.045,"v":0.77e-7},{"T":280,"B":0.05,"v":0.66e-7},{"T":280,"B":0.055,"v":0.57e-7},{"T":280,"B":0.06,"v":0.5e-7},{"T":280,"B":0.065,"v":0.44e-7},{"T":280,"B":0.07,"v":0.39e-7},{"T":280,"B":0.075,"v":0.34e-7},{"T":280,"B":0.08,"v":0.3e-7},{"T":280,"B":0.085,"v":0.27e-7},{"T":280,"B":0.09,"v":0.25e-7},{"T":280,"B":0.095,"v":0.22e-7},{"T":280,"B":0.1,"v":0.2e-7},{"T":280,"B":0.105,"v":0.18e-7},{"T":280,"B":0.11,"v":0.16e-7},{"T":280,"B":0.115,"v":0.15e-7},{"T":280,"B":0.12,"v":0.13e-7},{"T":280,"B":0.125,"v":0.12e-7},{"T":280,"B":0.13,"v":0.11e-7},{"T":280,"B":0.135,"v":0.1e-7},{"T":280,"B":0.14,"v":0.09e-7},{"T":280,"B":0.145,"v":0.08e-7},{"T":280,"B":0.15,"v":0.07e-7},
{"T":290,"B":0.005,"v":1.15e-7},{"T":290,"B":0.01,"v":1.6e-7},{"T":290,"B":0.015,"v":1.68e-7},{"T":290,"B":0.02,"v":1.6e-7},{"T":290,"B":0.025,"v":1.42e-7},{"T":290,"B":0.03,"v":1.2e-7},{"T":290,"B":0.035,"v":1.02e-7},{"T":290,"B":0.04,"v":0.87e-7},{"T":290,"B":0.045,"v":0.74e-7},{"T":290,"B":0.05,"v":0.64e-7},{"T":290,"B":0.055,"v":0.55e-7},{"T":290,"B":0.06,"v":0.48e-7},{"T":290,"B":0.065,"v":0.43e-7},{"T":290,"B":0.07,"v":0.38e-7},{"T":290,"B":0.075,"v":0.33e-7},{"T":290,"B":0.08,"v":0.3e-7},{"T":290,"B":0.085,"v":0.27e-7},{"T":290,"B":0.09,"v":0.24e-7},{"T":290,"B":0.095,"v":0.22e-7},{"T":290,"B":0.1,"v":0.2e-7},{"T":290,"B":0.105,"v":0.18e-7},{"T":290,"B":0.11,"v":0.16e-7},{"T":290,"B":0.115,"v":0.14e-7},{"T":290,"B":0.12,"v":0.13e-7},{"T":290,"B":0.125,"v":0.12e-7},{"T":290,"B":0.13,"v":0.1e-7},{"T":290,"B":0.135,"v":0.09e-7},{"T":290,"B":0.14,"v":0.08e-7},{"T":290,"B":0.145,"v":0.07e-7},{"T":290,"B":0.15,"v":0.06e-7},
{"T":300,"B":0.005,"v":1.0e-7},{"T":300,"B":0.01,"v":1.35e-7},{"T":300,"B":0.015,"v":1.45e-7},{"T":300,"B":0.02,"v":1.37e-7},{"T":300,"B":0.025,"v":1.27e-7},{"T":300,"B":0.03,"v":1.17e-7},{"T":300,"B":0.035,"v":1.05e-7},{"T":300,"B":0.04,"v":0.92e-7},{"T":300,"B":0.045,"v":0.82e-7},{"T":300,"B":0.05,"v":0.72e-7},{"T":300,"B":0.055,"v":0.64e-7},{"T":300,"B":0.06,"v":0.57e-7},{"T":300,"B":0.065,"v":0.51e-7},{"T":300,"B":0.07,"v":0.46e-7},{"T":300,"B":0.075,"v":0.42e-7},{"T":300,"B":0.08,"v":0.38e-7},{"T":300,"B":0.085,"v":0.35e-7},{"T":300,"B":0.09,"v":0.32e-7},{"T":300,"B":0.095,"v":0.29e-7},{"T":300,"B":0.1,"v":0.27e-7},{"T":300,"B":0.105,"v":0.25e-7},{"T":300,"B":0.11,"v":0.23e-7},{"T":300,"B":0.115,"v":0.22e-7},{"T":300,"B":0.12,"v":0.21e-7},{"T":300,"B":0.125,"v":0.2e-7},{"T":300,"B":0.13,"v":0.19e-7},{"T":300,"B":0.135,"v":0.18e-7},{"T":300,"B":0.14,"v":0.18e-7},{"T":300,"B":0.145,"v":0.17e-7},{"T":300,"B":0.15,"v":0.17e-7},
{"T":310,"B":0.005,"v":0.98e-7},{"T":310,"B":0.01,"v":1.32e-7},{"T":310,"B":0.015,"v":1.42e-7},{"T":310,"B":0.02,"v":1.34e-7},{"T":310,"B":0.025,"v":1.24e-7},{"T":310,"B":0.03,"v":1.13e-7},{"T":310,"B":0.035,"v":1.01e-7},{"T":310,"B":0.04,"v":0.89e-7},{"T":310,"B":0.045,"v":0.79e-7},{"T":310,"B":0.05,"v":0.69e-7},{"T":310,"B":0.055,"v":0.61e-7},{"T":310,"B":0.06,"v":0.54e-7},{"T":310,"B":0.065,"v":0.48e-7},{"T":310,"B":0.07,"v":0.43e-7},{"T":310,"B":0.075,"v":0.39e-7},{"T":310,"B":0.08,"v":0.35e-7},{"T":310,"B":0.085,"v":0.32e-7},{"T":310,"B":0.09,"v":0.29e-7},{"T":310,"B":0.095,"v":0.27e-7},{"T":310,"B":0.1,"v":0.25e-7},{"T":310,"B":0.105,"v":0.23e-7},{"T":310,"B":0.11,"v":0.21e-7},{"T":310,"B":0.115,"v":0.2e-7},{"T":310,"B":0.12,"v":0.19e-7},{"T":310,"B":0.125,"v":0.18e-7},{"T":310,"B":0.13,"v":0.17e-7},{"T":310,"B":0.135,"v":0.16e-7},{"T":310,"B":0.14,"v":0.15e-7},{"T":310,"B":0.145,"v":0.15e-7},{"T":310,"B":0.15,"v":0.14e-7},
{"T":320,"B":0.005,"v":0.95e-7},{"T":320,"B":0.01,"v":1.29e-7},{"T":320,"B":0.015,"v":1.39e-7},{"T":320,"B":0.02,"v":1.31e-7},{"T":320,"B":0.025,"v":1.2e-7},{"T":320,"B":0.03,"v":1.09e-7},{"T":320,"B":0.035,"v":0.97e-7},{"T":320,"B":0.04,"v":0.86e-7},{"T":320,"B":0.045,"v":0.76e-7},{"T":320,"B":0.05,"v":0.66e-7},{"T":320,"B":0.055,"v":0.58e-7},{"T":320,"B":0.06,"v":0.51e-7},{"T":320,"B":0.065,"v":0.45e-7},{"T":320,"B":0.07,"v":0.4e-7},{"T":320,"B":0.075,"v":0.36e-7},{"T":320,"B":0.08,"v":0.33e-7},{"T":320,"B":0.085,"v":0.3e-7},{"T":320,"B":0.09,"v":0.27e-7},{"T":320,"B":0.095,"v":0.25e-7},{"T":320,"B":0.1,"v":0.23e-7},{"T":320,"B":0.105,"v":0.21e-7},{"T":320,"B":0.11,"v":0.19e-7},{"T":320,"B":0.115,"v":0.18e-7},{"T":320,"B":0.12,"v":0.17e-7},{"T":320,"B":0.125,"v":0.16e-7},{"T":320,"B":0.13,"v":0.15e-7},{"T":320,"B":0.135,"v":0.14e-7},{"T":320,"B":0.14,"v":0.13e-7},{"T":320,"B":0.145,"v":0.13e-7},{"T":320,"B":0.15,"v":0.12e-7},
{"T":330,"B":0.005,"v":0.93e-7},{"T":330,"B":0.01,"v":1.26e-7},{"T":330,"B":0.015,"v":1.36e-7},{"T":330,"B":0.02,"v":1.28e-7},{"T":330,"B":0.025,"v":1.16e-7},{"T":330,"B":0.03,"v":1.05e-7},{"T":330,"B":0.035,"v":0.94e-7},{"T":330,"B":0.04,"v":0.83e-7},{"T":330,"B":0.045,"v":0.73e-7},{"T":330,"B":0.05,"v":0.63e-7},{"T":330,"B":0.055,"v":0.55e-7},{"T":330,"B":0.06,"v":0.48e-7},{"T":330,"B":0.065,"v":0.42e-7},{"T":330,"B":0.07,"v":0.38e-7},{"T":330,"B":0.075,"v":0.34e-7},{"T":330,"B":0.08,"v":0.31e-7},{"T":330,"B":0.085,"v":0.28e-7},{"T":330,"B":0.09,"v":0.25e-7},{"T":330,"B":0.095,"v":0.23e-7},{"T":330,"B":0.1,"v":0.21e-7},{"T":330,"B":0.105,"v":0.19e-7},{"T":330,"B":0.11,"v":0.18e-7},{"T":330,"B":0.115,"v":0.16e-7},{"T":330,"B":0.12,"v":0.15e-7},{"T":330,"B":0.125,"v":0.14e-7},{"T":330,"B":0.13,"v":0.13e-7},{"T":330,"B":0.135,"v":0.12e-7},{"T":330,"B":0.14,"v":0.12e-7},{"T":330,"B":0.145,"v":0.11e-7},{"T":330,"B":0.15,"v":0.1e-7},
{"T":340,"B":0.005,"v":0.9e-7},{"T":340,"B":0.01,"v":1.23e-7},{"T":340,"B":0.015,"v":1.33e-7},{"T":340,"B":0.02,"v":1.25e-7},{"T":340,"B":0.025,"v":1.12e-7},{"T":340,"B":0.03,"v":1.01e-7},{"T":340,"B":0.035,"v":0.9e-7},{"T":340,"B":0.04,"v":0.8e-7},{"T":340,"B":0.045,"v":0.7e-7},{"T":340,"B":0.05,"v":0.6e-7},{"T":340,"B":0.055,"v":0.52e-7},{"T":340,"B":0.06,"v":0.46e-7},{"T":340,"B":0.065,"v":0.4e-7},{"T":340,"B":0.07,"v":0.36e-7},{"T":340,"B":0.075,"v":0.32e-7},{"T":340,"B":0.08,"v":0.29e-7},{"T":340,"B":0.085,"v":0.26e-7},{"T":340,"B":0.09,"v":0.23e-7},{"T":340,"B":0.095,"v":0.21e-7},{"T":340,"B":0.1,"v":0.19e-7},{"T":340,"B":0.105,"v":0.18e-7},{"T":340,"B":0.11,"v":0.16e-7},{"T":340,"B":0.115,"v":0.15e-7},{"T":340,"B":0.12,"v":0.14e-7},{"T":340,"B":0.125,"v":0.13e-7},{"T":340,"B":0.13,"v":0.12e-7},{"T":340,"B":0.135,"v":0.11e-7},{"T":340,"B":0.14,"v":0.1e-7},{"T":340,"B":0.145,"v":0.1e-7},{"T":340,"B":0.15,"v":0.09e-7},
{"T":350,"B":0.005,"v":0.88e-7},{"T":350,"B":0.01,"v":1.21e-7},{"T":350,"B":0.015,"v":1.3e-7},{"T":350,"B":0.02,"v":1.22e-7},{"T":350,"B":0.025,"v":1.09e-7},{"T":350,"B":0.03,"v":0.98e-7},{"T":350,"B":0.035,"v":0.87e-7},{"T":350,"B":0.04,"v":0.77e-7},{"T":350,"B":0.045,"v":0.67e-7},{"T":350,"B":0.05,"v":0.57e-7},{"T":350,"B":0.055,"v":0.5e-7},{"T":350,"B":0.06,"v":0.43e-7},{"T":350,"B":0.065,"v":0.38e-7},{"T":350,"B":0.07,"v":0.34e-7},{"T":350,"B":0.075,"v":0.3e-7},{"T":350,"B":0.08,"v":0.27e-7},{"T":350,"B":0.085,"v":0.24e-7},{"T":350,"B":0.09,"v":0.22e-7},{"T":350,"B":0.095,"v":0.2e-7},{"T":350,"B":0.1,"v":0.18e-7},{"T":350,"B":0.105,"v":0.17e-7},{"T":350,"B":0.11,"v":0.15e-7},{"T":350,"B":0.115,"v":0.14e-7},{"T":350,"B":0.12,"v":0.13e-7},{"T":350,"B":0.125,"v":0.12e-7},{"T":350,"B":0.13,"v":0.11e-7},{"T":350,"B":0.135,"v":0.1e-7},{"T":350,"B":0.14,"v":0.09e-7},{"T":350,"B":0.145,"v":0.09e-7},{"T":350,"B":0.15,"v":0.08e-7},
{"T":360,"B":0.005,"v":0.86e-7},{"T":360,"B":0.01,"v":1.19e-7},{"T":360,"B":0.015,"v":1.28e-7},{"T":360,"B":0.02,"v":1.2e-7},{"T":360,"B":0.025,"v":1.06e-7},{"T":360,"B":0.03,"v":0.95e-7},{"T":360,"B":0.035,"v":0.84e-7},{"T":360,"B":0.04,"v":0.74e-7},{"T":360,"B":0.045,"v":0.64e-7},{"T":360,"B":0.05,"v":0.54e-7},{"T":360,"B":0.055,"v":0.47e-7},{"T":360,"B":0.06,"v":0.41e-7},{"T":360,"B":0.065,"v":0.36e-7},{"T":360,"B":0.07,"v":0.32e-7},{"T":360,"B":0.075,"v":0.28e-7},{"T":360,"B":0.08,"v":0.25e-7},{"T":360,"B":0.085,"v":0.22e-7},{"T":360,"B":0.09,"v":0.2e-7},{"T":360,"B":0.095,"v":0.18e-7},{"T":360,"B":0.1,"v":0.17e-7},{"T":360,"B":0.105,"v":0.16e-7},{"T":360,"B":0.11,"v":0.14e-7},{"T":360,"B":0.115,"v":0.13e-7},{"T":360,"B":0.12,"v":0.12e-7},{"T":360,"B":0.125,"v":0.11e-7},{"T":360,"B":0.13,"v":0.1e-7},{"T":360,"B":0.135,"v":0.09e-7},{"T":360,"B":0.14,"v":0.08e-7},{"T":360,"B":0.145,"v":0.08e-7},{"T":360,"B":0.15,"v":0.07e-7},
{"T":370,"B":0.005,"v":0.84e-7},{"T":370,"B":0.01,"v":1.17e-7},{"T":370,"B":0.015,"v":1.26e-7},{"T":370,"B":0.02,"v":1.18e-7},{"T":370,"B":0.025,"v":1.03e-7},{"T":370,"B":0.03,"v":0.92e-7},{"T":370,"B":0.035,"v":0.81e-7},{"T":370,"B":0.04,"v":0.71e-7},{"T":370,"B":0.045,"v":0.6e-7},{"T":370,"B":0.05,"v":0.51e-7},{"T":370,"B":0.055,"v":0.44e-7},{"T":370,"B":0.06,"v":0.38e-7},{"T":370,"B":0.065,"v":0.33e-7},{"T":370,"B":0.07,"v":0.3e-7},{"T":370,"B":0.075,"v":0.26e-7},{"T":370,"B":0.08,"v":0.23e-7},{"T":370,"B":0.085,"v":0.21e-7},{"T":370,"B":0.09,"v":0.19e-7},{"T":370,"B":0.095,"v":0.17e-7},{"T":370,"B":0.1,"v":0.16e-7},{"T":370,"B":0.105,"v":0.15e-7},{"T":370,"B":0.11,"v":0.13e-7},{"T":370,"B":0.115,"v":0.12e-7},{"T":370,"B":0.12,"v":0.11e-7},{"T":370,"B":0.125,"v":0.1e-7},{"T":370,"B":0.13,"v":0.09e-7},{"T":370,"B":0.135,"v":0.08e-7},{"T":370,"B":0.14,"v":0.08e-7},{"T":370,"B":0.145,"v":0.07e-7},{"T":370,"B":0.15,"v":0.06e-7},
{"T":380,"B":0.005,"v":0.82e-7},{"T":380,"B":0.01,"v":1.15e-7},{"T":380,"B":0.015,"v":1.24e-7},{"T":380,"B":0.02,"v":1.16e-7},{"T":380,"B":0.025,"v":1.0e-7},{"T":380,"B":0.03,"v":0.89e-7},{"T":380,"B":0.035,"v":0.78e-7},{"T":380,"B":0.04,"v":0.68e-7},{"T":380,"B":0.045,"v":0.57e-7},{"T":380,"B":0.05,"v":0.48e-7},{"T":380,"B":0.055,"v":0.41e-7},{"T":380,"B":0.06,"v":0.35e-7},{"T":380,"B":0.065,"v":0.31e-7},{"T":380,"B":0.07,"v":0.28e-7},{"T":380,"B":0.075,"v":0.24e-7},{"T":380,"B":0.08,"v":0.21e-7},{"T":380,"B":0.085,"v":0.19e-7},{"T":380,"B":0.09,"v":0.17e-7},{"T":380,"B":0.095,"v":0.16e-7},{"T":380,"B":0.1,"v":0.15e-7},{"T":380,"B":0.105,"v":0.14e-7},{"T":380,"B":0.11,"v":0.12e-7},{"T":380,"B":0.115,"v":0.11e-7},{"T":380,"B":0.12,"v":0.1e-7},{"T":380,"B":0.125,"v":0.09e-7},{"T":380,"B":0.13,"v":0.09e-7},{"T":380,"B":0.135,"v":0.08e-7},{"T":380,"B":0.14,"v":0.07e-7},{"T":380,"B":0.145,"v":0.07e-7},{"T":380,"B":0.15,"v":0.06e-7},
{"T":390,"B":0.005,"v":0.8e-7},{"T":390,"B":0.01,"v":1.13e-7},{"T":390,"B":0.015,"v":1.22e-7},{"T":390,"B":0.02,"v":1.14e-7},{"T":390,"B":0.025,"v":0.97e-7},{"T":390,"B":0.03,"v":0.86e-7},{"T":390,"B":0.035,"v":0.75e-7},{"T":390,"B":0.04,"v":0.65e-7},{"T":390,"B":0.045,"v":0.55e-7},{"T":390,"B":0.05,"v":0.45e-7},{"T":390,"B":0.055,"v":0.39e-7},{"T":390,"B":0.06,"v":0.33e-7},{"T":390,"B":0.065,"v":0.29e-7},{"T":390,"B":0.07,"v":0.26e-7},{"T":390,"B":0.075,"v":0.22e-7},{"T":390,"B":0.08,"v":0.19e-7},{"T":390,"B":0.085,"v":0.17e-7},{"T":390,"B":0.09,"v":0.16e-7},{"T":390,"B":0.095,"v":0.15e-7},{"T":390,"B":0.1,"v":0.14e-7},{"T":390,"B":0.105,"v":0.13e-7},{"T":390,"B":0.11,"v":0.12e-7},{"T":390,"B":0.115,"v":0.11e-7},{"T":390,"B":0.12,"v":0.1e-7},{"T":390,"B":0.125,"v":0.09e-7},{"T":390,"B":0.13,"v":0.08e-7},{"T":390,"B":0.135,"v":0.07e-7},{"T":390,"B":0.14,"v":0.07e-7},{"T":390,"B":0.145,"v":0.06e-7},{"T":390,"B":0.15,"v":0.05e-7},
{"T":400,"B":0.005,"v":0.79e-7},{"T":400,"B":0.01,"v":1.12e-7},{"T":400,"B":0.015,"v":1.2e-7},{"T":400,"B":0.02,"v":1.12e-7},{"T":400,"B":0.025,"v":0.95e-7},{"T":400,"B":0.03,"v":0.83e-7},{"T":400,"B":0.035,"v":0.72e-7},{"T":400,"B":0.04,"v":0.62e-7},{"T":400,"B":0.045,"v":0.52e-7},{"T":400,"B":0.05,"v":0.43e-7},{"T":400,"B":0.055,"v":0.37e-7},{"T":400,"B":0.06,"v":0.31e-7},{"T":400,"B":0.065,"v":0.27e-7},{"T":400,"B":0.07,"v":0.24e-7},{"T":400,"B":0.075,"v":0.21e-7},{"T":400,"B":0.08,"v":0.18e-7},{"T":400,"B":0.085,"v":0.16e-7},{"T":400,"B":0.09,"v":0.15e-7},{"T":400,"B":0.095,"v":0.14e-7},{"T":400,"B":0.1,"v":0.13e-7},{"T":400,"B":0.105,"v":0.12e-7},{"T":400,"B":0.11,"v":0.11e-7},{"T":400,"B":0.115,"v":0.1e-7},{"T":400,"B":0.12,"v":0.09e-7},{"T":400,"B":0.125,"v":0.08e-7},{"T":400,"B":0.13,"v":0.08e-7},{"T":400,"B":0.135,"v":0.07e-7},{"T":400,"B":0.14,"v":0.06e-7},{"T":400,"B":0.145,"v":0.06e-7},{"T":400,"B":0.15,"v":0.05e-7}
],
"labels":[{"text":"150K","B":0.0162,"v":1.07e-6},{"text":"100K","B":0.0498,"v":1.13e-6},{"text":"50K","B":0.0715,"v":1.124e-6},{"text":"200K","B":0.0065,"v":0.818e-6},{"text":"10K","B":0.1082,"v":0.67e-6},{"text":"20K","B":0.1126,"v":0.551e-6},{"text":"400K","B":0.0165,"v":0.058e-6}],
"titles":[{"text":"TC04-11-40-001","B":0.1148,"v":1.034e-6},{"text":"backfield spectra","B":0.1148,"v":0.955e-6}],
"arrows":[{"label":"150K","B":0.01866,"v":1.045e-6,"B2":0.02395,"v2":1.0126e-6},{"label":"100K","B":0.04914,"v":1.099e-6,"B2":0.0451,"v2":1.0414e-6},{"label":"50K","B":0.0678,"v":1.11e-6,"B2":0.065,"v2":1.063e-6},{"label":"200K","B":0.00778,"v":0.7928e-6,"B2":0.01089,"v2":0.6919e-6},{"label":"10K","B":0.10482,"v":0.6523e-6,"B2":0.10109,"v2":0.627e-6},{"label":"20K","B":0.10824,"v":0.5369e-6,"B2":0.09891,"v2":0.4829e-6},{"label":"400K","B":0.0224,"v":0.054e-6,"B2":0.02582,"v2":0.0937e-6}]
},
"layer":[
{"data":{"name":"curves"},"transform":[{"filter":{"not":{"field":"T","oneOf":[50,100,150,200,250,300,350,400]}}}],"mark":{"type":"line","color":"#9a9a9a","strokeWidth":1},"encoding":{"x":{"field":"B","type":"quantitative","scale":{"domain":[0,0.15],"nice":false},"axis":{"values":[0,0.02,0.04,0.06,0.08,0.1,0.12,0.14],"format":"~g","title":"Bₐₚₚ [T]","labelPadding":11,"titleBaseline":"alphabetic","titleY":56}},"y":{"field":"v","type":"quantitative","scale":{"domain":[0,1.2e-6],"nice":false},"axis":{"values":[0,2e-7,4e-7,6e-7,8e-7,1e-6,1.2e-6],"labelExpr":"datum.value == 0 ? '0.0E+00' : replace(upper(format(datum.value, '.1e')), 'E-', 'E-0')","title":"dm/dB [Am²/T]","labelPadding":5,"titleX":-87,"titleY":176,"titleBaseline":"middle","titleAngle":-90}},"detail":{"field":"T"}}},
{"data":{"name":"curves"},"transform":[{"filter":{"field":"T","oneOf":[50,150,250]}}],"mark":{"type":"line","color":"black","strokeWidth":1},"encoding":{"x":{"field":"B","type":"quantitative"},"y":{"field":"v","type":"quantitative"},"detail":{"field":"T"}}},
{"data":{"name":"curves"},"transform":[{"filter":{"field":"T","oneOf":[100,200,300,350,400]}}],"mark":{"type":"line","color":"black","strokeWidth":2},"encoding":{"x":{"field":"B","type":"quantitative"},"y":{"field":"v","type":"quantitative"},"detail":{"field":"T"}}},
{"data":{"name":"curves"},"transform":[{"filter":{"field":"T","oneOf":[50,150,250]}}],"mark":{"type":"point","shape":"circle","filled":false,"color":"black","strokeWidth":1,"size":26,"opacity":1},"encoding":{"x":{"field":"B","type":"quantitative"},"y":{"field":"v","type":"quantitative"}}},
{"data":{"name":"curves"},"transform":[{"filter":{"field":"T","oneOf":[100,200,300,350,400]}}],"mark":{"type":"point","shape":"circle","filled":true,"color":"black","size":30,"opacity":1},"encoding":{"x":{"field":"B","type":"quantitative"},"y":{"field":"v","type":"quantitative"}}},
{"data":{"name":"arrows"},"mark":{"type":"rule","color":"black","strokeWidth":1.5},"encoding":{"x":{"field":"B","type":"quantitative"},"y":{"field":"v","type":"quantitative"},"x2":{"field":"B2"},"y2":{"field":"v2"}}},
{"data":{"name":"arrows"},"transform":[{"filter":"datum.label == '150K'"}],"mark":{"type":"point","shape":"triangle-up","filled":true,"color":"black","size":40,"angle":118,"opacity":1},"encoding":{"x":{"field":"B2","type":"quantitative"},"y":{"field":"v2","type":"quantitative"}}},
{"data":{"name":"arrows"},"transform":[{"filter":"datum.label == '100K'"}],"mark":{"type":"point","shape":"triangle-up","filled":true,"color":"black","size":40,"angle":219,"opacity":1},"encoding":{"x":{"field":"B2","type":"quantitative"},"y":{"field":"v2","type":"quantitative"}}},
{"data":{"name":"arrows"},"transform":[{"filter":"datum.label == '50K'"}],"mark":{"type":"point","shape":"triangle-up","filled":true,"color":"black","size":40,"angle":215,"opacity":1},"encoding":{"x":{"field":"B2","type":"quantitative"},"y":{"field":"v2","type":"quantitative"}}},
{"data":{"name":"arrows"},"transform":[{"filter":"datum.label == '200K'"}],"mark":{"type":"point","shape":"triangle-up","filled":true,"color":"black","size":40,"angle":160,"opacity":1},"encoding":{"x":{"field":"B2","type":"quantitative"},"y":{"field":"v2","type":"quantitative"}}},
{"data":{"name":"arrows"},"transform":[{"filter":"datum.label == '10K'"}],"mark":{"type":"point","shape":"triangle-up","filled":true,"color":"black","size":40,"angle":240,"opacity":1},"encoding":{"x":{"field":"B2","type":"quantitative"},"y":{"field":"v2","type":"quantitative"}}},
{"data":{"name":"arrows"},"transform":[{"filter":"datum.label == '20K'"}],"mark":{"type":"point","shape":"triangle-up","filled":true,"color":"black","size":40,"angle":243,"opacity":1},"encoding":{"x":{"field":"B2","type":"quantitative"},"y":{"field":"v2","type":"quantitative"}}},
{"data":{"name":"arrows"},"transform":[{"filter":"datum.label == '400K'"}],"mark":{"type":"point","shape":"triangle-up","filled":true,"color":"black","size":40,"angle":45,"opacity":1},"encoding":{"x":{"field":"B2","type":"quantitative"},"y":{"field":"v2","type":"quantitative"}}},
{"data":{"name":"labels"},"mark":{"type":"text","font":"Liberation Sans","fontSize":12.5,"color":"black","align":"center","baseline":"middle"},"encoding":{"x":{"field":"B","type":"quantitative"},"y":{"field":"v","type":"quantitative"},"text":{"field":"text"}}},
{"data":{"name":"titles"},"mark":{"type":"text","font":"Liberation Sans","fontSize":18.5,"color":"black","align":"center","baseline":"middle"},"encoding":{"x":{"field":"B","type":"quantitative"},"y":{"field":"v","type":"quantitative"},"text":{"field":"text"}}}
]}
